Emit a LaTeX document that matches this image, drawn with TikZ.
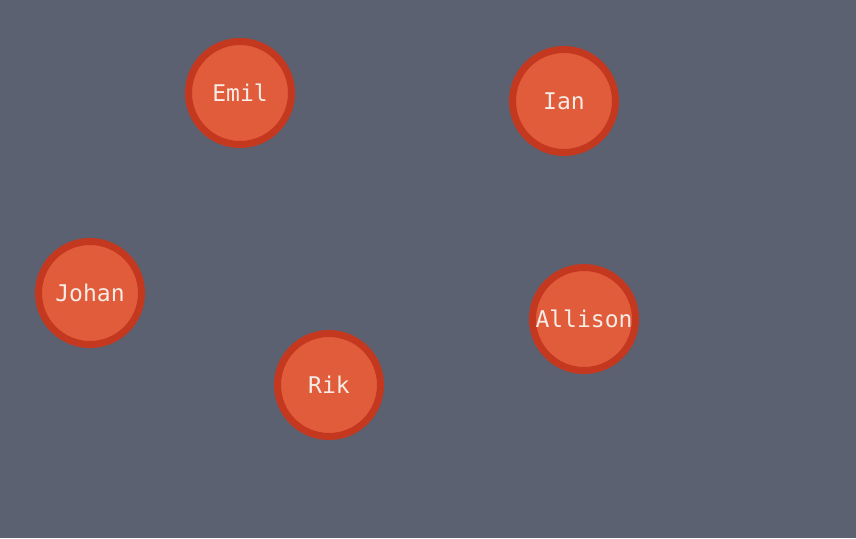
\documentclass[tikz,border=0pt]{standalone}
\usepackage{fontspec}
\newfontfamily\nodefont{DejaVu Sans Mono}
\usetikzlibrary{positioning}
\definecolor{bggray}{HTML}{5B6170}
\definecolor{nodefill}{HTML}{E05C3B}
\definecolor{noderim}{HTML}{C3381F}
\definecolor{nodetext}{HTML}{F7ECE6}
\begin{document}
\begin{tikzpicture}[x=1pt,y=-1pt,
  person/.style={circle,draw=noderim,fill=nodefill,line width=7pt,
    minimum size=103pt,inner sep=0pt,text=nodetext,
    font=\nodefont\fontsize{23}{26}\selectfont}]
            \fill[bggray] (0,0) rectangle (856,538);
            \node[person] (emil) at (240,93) {Emil};
            \node[person] (ian) at (564,101) {Ian};
            \node[person] (johan) at (90,293) {Johan};
            \node[person] (allison) at (584,319) {Allison};
            \node[person] (rik) at (329,385) {Rik};
          \end{tikzpicture}
\end{document}
